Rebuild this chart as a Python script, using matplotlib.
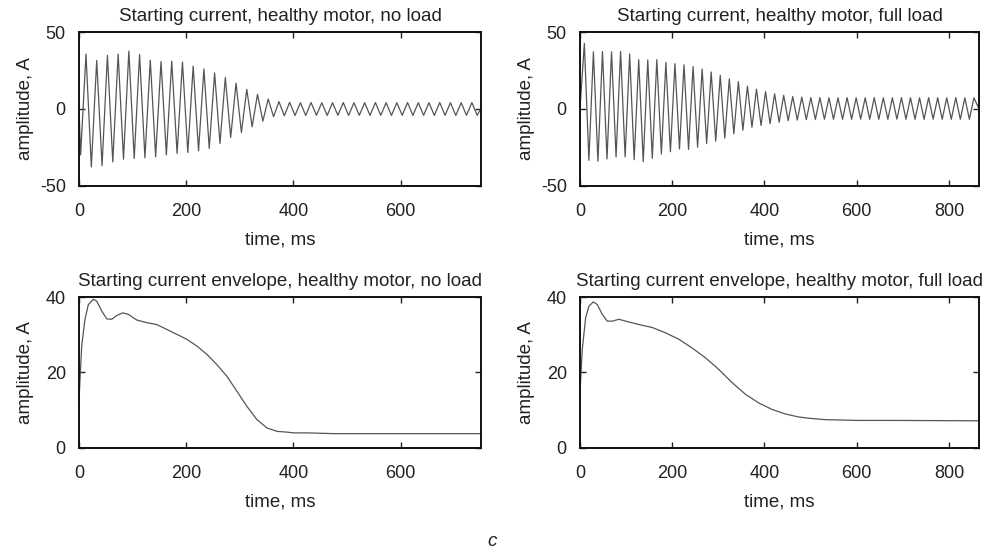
import numpy as np
import matplotlib
matplotlib.use("Agg")
import matplotlib.pyplot as plt

plt.rcParams['font.family'] = ['Liberation Sans', 'DejaVu Sans']
plt.rcParams['axes.unicode_minus'] = False

# starting current, no load: successive extremes (trough first), 10 ms apart
noload_t0 = 3.0
noload_half = 10.0
noload_extremes = [
    -30.0, 35.6, -37.8, 31.5, -37.0, 34.8, -34.5, 35.6, -32.8, 37.6,
    -32.3, 35.4, -31.9, 31.7, -31.2, 30.8, -30.0, 31.0, -29.0, 30.4,
    -28.4, 27.8, -27.3, 26.0, -25.8, 23.4, -22.5, 20.4, -18.6, 16.7,
    -15.4, 12.7, -11.7, 9.5, -8.0, 6.4, -5.1, 4.7, -4.5, 4.2,
    -4.3, 4.0, -4.3, 4.1, -4.2, 4.0, -4.3, 4.0, -4.2, 4.1,
    -4.3, 4.0, -4.2, 4.0, -4.3, 4.1, -4.2, 4.0, -4.3, 4.0,
    -4.2, 4.1, -4.3, 4.0, -4.2, 4.0, -4.3, 4.1, -4.2, 4.0,
    -4.3, 4.0, -4.2, 4.1, -4.3,
]
noload_end = (750.0, 0.5)

# starting current, full load: successive extremes (peak first)
fullload_t0 = 9.5
fullload_half = 9.82
fullload_extremes = [
    42.6, -33.5, 37.1, -34.1, 37.3, -32.6, 37.1, -31.3, 37.3, -31.3,
    35.7, -33.1, 32.0, -34.4, 31.8, -32.2, 32.0, -29.4, 30.2, -27.9,
    29.4, -26.1, 28.6, -26.4, 27.5, -25.0, 25.9, -22.6, 24.0, -21.0,
    21.8, -19.0, 19.5, -16.2, 17.7, -13.9, 14.8, -12.0, 12.8, -10.8,
    11.2, -9.7, 9.8, -8.7, 8.8, -7.7, 8.0, -7.3, 7.6, -7.0,
    7.3, -6.9, 7.3, -6.8, 7.2, -6.8, 7.2, -6.8, 7.3, -6.8,
    7.2, -6.7, 7.2, -6.8, 7.3, -6.8, 7.2, -6.8, 7.2, -6.7,
    7.3, -6.8, 7.2, -6.8, 7.2, -6.8, 7.3, -6.7, 7.2, -6.8,
    7.2, -6.8, 7.3, -6.8, 7.2, -6.8, 7.2,
]
fullload_end = (865.0, 0.0)

# envelopes
env_noload_t = [0, 5, 11, 17.4, 26.8, 33, 42.4, 51.7, 61, 70.4, 81.6, 92,
                107.8, 126.5, 145, 164, 182.6, 201, 220, 238.6, 257, 276,
                294.7, 313.4, 332, 350.8, 369.5, 388, 400.6, 425.5, 475, 750]
env_noload_a = [12.8, 27.0, 34.0, 38.0, 39.4, 38.9, 36.3, 34.2, 34.1, 35.1, 35.8, 35.4,
                33.9, 33.2, 32.7, 31.4, 30.1, 28.8, 27.0, 24.8, 22.1, 19.0,
                15.0, 11.0, 7.5, 5.3, 4.4, 4.2, 4.0, 4.0, 3.8, 3.8]

env_full_t = [0, 5, 12.3, 19.5, 29, 37.5, 48.4, 59, 70, 84.5, 99, 128, 157,
              185.6, 214.4, 243, 272, 301, 330, 359, 388, 416.6, 445.5, 474.4,
              503, 532, 604, 676.5, 865]
env_full_a = [14.6, 26.1, 34.5, 37.6, 38.7, 38.0, 35.4, 33.6, 33.6, 34.1, 33.6, 32.7, 31.9,
              30.5, 28.8, 26.5, 23.9, 20.8, 17.3, 14.2, 11.9, 10.2, 9.0, 8.2,
              7.8, 7.5, 7.3, 7.3, 7.2]


def extremes_series(t0, half, values, end):
    t = [0.0] + [t0 + i * half for i in range(len(values))] + [end[0]]
    y = [0.0] + list(values) + [end[1]]
    return t, y


line_col = '#555555'
txt_col = '#222222'
fig = plt.figure(figsize=(9.84, 5.5), dpi=100)

boxes = [
    [0.0803, 0.6624, 0.4085, 0.2794],
    [0.5894, 0.6624, 0.4055, 0.2794],
    [0.0803, 0.1855, 0.4085, 0.2745],
    [0.5894, 0.1855, 0.4055, 0.2745],
]
titles = [
    'Starting current, healthy motor, no load',
    'Starting current, healthy motor, full load',
    'Starting current envelope, healthy motor, no load',
    'Starting current envelope, healthy motor, full load',
]

t1, y1 = extremes_series(noload_t0, noload_half, noload_extremes, noload_end)
t2, y2 = extremes_series(fullload_t0, fullload_half, fullload_extremes, fullload_end)
series = [(t1, y1), (t2, y2), (env_noload_t, env_noload_a), (env_full_t, env_full_a)]
xmax = [750, 865, 750, 865]

for i in range(4):
    ax = fig.add_axes(boxes[i])
    t, y = series[i]
    ax.plot(t, y, color=line_col, lw=0.9)
    ax.set_xlim(0, xmax[i])
    if i < 2:
        ax.set_ylim(-50, 50)
        ax.set_yticks([-50, 0, 50])
    else:
        ax.set_ylim(0, 40)
        ax.set_yticks([0, 20, 40])
    if xmax[i] == 750:
        ax.set_xticks([0, 200, 400, 600])
    else:
        ax.set_xticks([0, 200, 400, 600, 800])
    ax.tick_params(direction='in', top=True, right=True, length=4, width=1,
                   labelsize=13, colors=txt_col)
    ax.tick_params(axis='x', pad=12.5)
    ax.tick_params(axis='y', pad=9.5)
    for s in ax.spines.values():
        s.set_linewidth(1.4)
        s.set_color('#111111')
    ax.set_title(titles[i], fontsize=13.5, color=txt_col, pad=8)
    ax.set_xlabel('time, ms', fontsize=13.5, color=txt_col, va='center')
    ax.xaxis.set_label_coords(0.5, -0.355)
    ax.set_ylabel('amplitude, A', fontsize=13.5, color=txt_col, va='center')
    ax.yaxis.set_label_coords(-0.134, 0.5)

fig.text(0.5, 0.016, 'c', fontsize=13.5, style='italic', ha='center', va='center',
         color=txt_col)

fig.savefig('out.png', dpi=100)
